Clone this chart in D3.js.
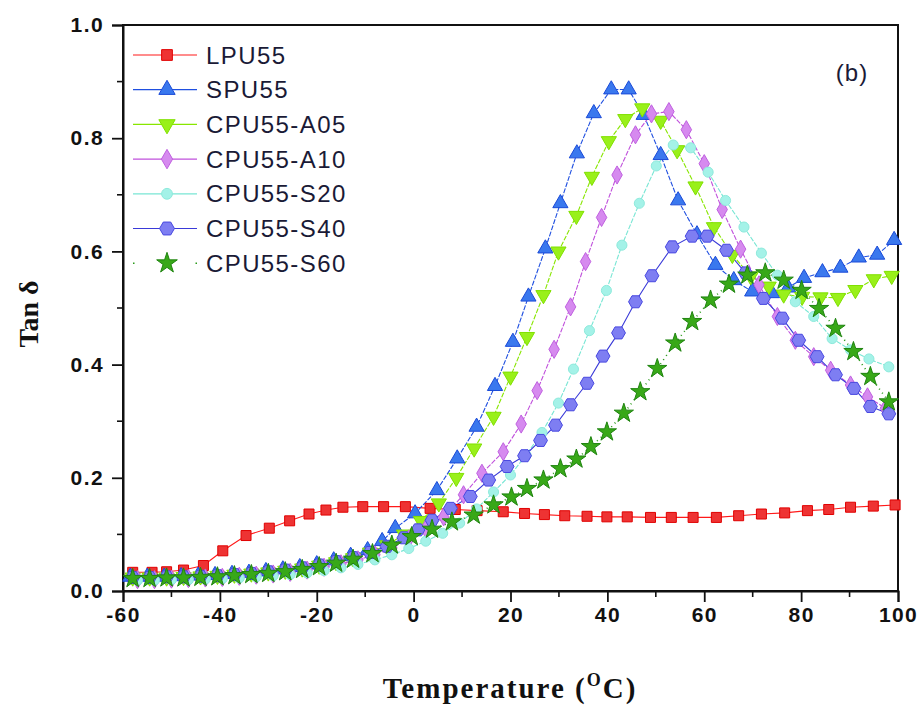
<!DOCTYPE html>
<html>
<head>
<meta charset="utf-8">
<script src="https://cdnjs.cloudflare.com/ajax/libs/d3/7.8.5/d3.min.js"></script>
<style>
  html, body { margin: 0; padding: 0; background: #fff; }
  svg { display: block; }
</style>
</head>
<body>
<svg id="chart"></svg>
<script>
// tan delta vs temperature as [T (°C), tan δ]
const lpu55 = [[-58,0.033],[-54,0.033],[-51,0.034],[-47.5,0.037],[-43.4,0.045],[-39.4,0.071],[-34.6,0.098],[-29.8,0.111],[-25.6,0.124],[-21.6,0.136],[-18.1,0.143],[-14.6,0.148],[-10.5,0.149],[-6.2,0.149],[-1.7,0.149],[3.4,0.146],[8.6,0.144],[13.1,0.142],[18.5,0.140],[22.9,0.137],[27.0,0.135],[31.2,0.133],[35.8,0.132],[39.9,0.131],[44.1,0.131],[48.9,0.130],[53.2,0.130],[57.7,0.130],[62.5,0.130],[67.1,0.133],[71.8,0.136],[76.6,0.138],[81.3,0.142],[85.7,0.144],[90.2,0.148],[94.9,0.150],[99.4,0.152]];

const spu55 = [[-58.5,0.025],[-55,0.025],[-51.5,0.025],[-48,0.026],[-44.5,0.027],[-41,0.028],[-37.5,0.030],[-34,0.032],[-30.5,0.035],[-27,0.038],[-23.5,0.042],[-20,0.047],[-16.5,0.054],[-13,0.062],[-9.5,0.072],[-6.5,0.088],[-3.8,0.111],[0.3,0.137],[4.8,0.178],[9.0,0.234],[13.0,0.290],[16.8,0.362],[20.5,0.440],[23.7,0.520],[27.2,0.605],[30.3,0.685],[33.7,0.773],[37.2,0.844],[40.8,0.886],[44.4,0.886],[47.5,0.841],[51.0,0.770],[54.6,0.690],[58.5,0.630],[62.3,0.576],[66.1,0.549],[69.9,0.529],[74.0,0.526],[77.3,0.536],[80.6,0.553],[84.4,0.563],[88.1,0.571],[91.9,0.589],[95.7,0.594],[99.2,0.620]];

const cpu55A05 = [[-58,0.024],[-54.5,0.024],[-51,0.024],[-47.5,0.025],[-44,0.026],[-40.5,0.027],[-37,0.029],[-33.5,0.031],[-30,0.033],[-26.5,0.036],[-23,0.040],[-19.5,0.045],[-16,0.051],[-12.5,0.058],[-9,0.068],[-5.5,0.081],[-2,0.100],[1.5,0.124],[5.2,0.155],[8.8,0.200],[12.5,0.252],[16.5,0.308],[20.0,0.379],[23.4,0.449],[26.8,0.523],[29.9,0.600],[33.6,0.663],[36.8,0.732],[40.3,0.795],[43.7,0.834],[47.2,0.853],[51.0,0.831],[54.4,0.779],[58.2,0.715],[62.0,0.643],[65.8,0.594],[69.6,0.556],[73.3,0.538],[76.4,0.524],[80.2,0.520],[84.0,0.519],[87.6,0.518],[91.2,0.532],[95.0,0.551],[98.7,0.557]];

const cpu55A10 = [[-57,0.020],[-53.5,0.020],[-50,0.021],[-46.5,0.022],[-43,0.023],[-39.5,0.024],[-36,0.026],[-32.5,0.028],[-29,0.030],[-25.5,0.033],[-22,0.037],[-18.5,0.042],[-15,0.048],[-11.5,0.055],[-8,0.064],[-4.5,0.076],[-1,0.092],[2.5,0.110],[6.2,0.131],[10.3,0.170],[14.1,0.208],[18.5,0.246],[22.2,0.295],[25.5,0.354],[29.0,0.427],[32.4,0.502],[35.5,0.582],[38.8,0.660],[42.0,0.735],[45.8,0.806],[49.1,0.843],[52.7,0.847],[56.3,0.815],[60.0,0.755],[63.7,0.674],[67.5,0.604],[71.3,0.541],[75.1,0.485],[78.8,0.443],[82.6,0.414],[86.1,0.390],[90.2,0.364],[93.7,0.343],[97.4,0.323]];

const cpu55S20 = [[-57,0.019],[-53.5,0.019],[-50,0.020],[-46.5,0.020],[-43,0.021],[-39.5,0.022],[-36,0.023],[-32.5,0.025],[-29,0.027],[-25.5,0.029],[-22,0.032],[-18.5,0.036],[-15,0.041],[-11.5,0.047],[-8,0.055],[-4.5,0.064],[-1,0.075],[2.5,0.088],[6.0,0.102],[9.5,0.120],[13.0,0.145],[16.5,0.175],[20.0,0.205],[23.2,0.240],[26.5,0.280],[29.9,0.332],[33.0,0.392],[36.3,0.460],[39.8,0.531],[43.0,0.611],[46.6,0.685],[50.1,0.751],[53.6,0.788],[57.2,0.783],[60.8,0.740],[64.4,0.690],[68.2,0.643],[71.8,0.597],[75.1,0.558],[78.8,0.511],[82.6,0.485],[86.4,0.446],[90.2,0.426],[94.0,0.410],[98.1,0.396]];

const cpu55S40 = [[-58,0.024],[-54.5,0.024],[-51,0.025],[-47.5,0.025],[-44,0.026],[-40.5,0.027],[-37,0.029],[-33.5,0.031],[-30,0.034],[-26.5,0.037],[-23,0.041],[-19.5,0.046],[-16,0.052],[-12.5,0.059],[-9,0.068],[-5.5,0.079],[-2,0.094],[0.9,0.108],[3.8,0.125],[7.6,0.146],[11.7,0.167],[15.5,0.196],[19.3,0.220],[22.9,0.239],[26.2,0.266],[29.3,0.293],[32.4,0.329],[35.8,0.367],[39.1,0.415],[42.3,0.456],[45.8,0.511],[49.2,0.557],[53.4,0.608],[57.5,0.627],[60.6,0.627],[64.6,0.602],[68.5,0.562],[72.2,0.517],[76.1,0.482],[79.5,0.443],[83.3,0.414],[87.1,0.382],[90.9,0.358],[94.3,0.326],[98.1,0.313]];

const cpu55S60 = [[-58,0.022],[-54.5,0.022],[-51,0.023],[-47.5,0.023],[-44,0.024],[-40.5,0.025],[-37,0.027],[-33.5,0.029],[-30,0.031],[-26.5,0.034],[-23,0.038],[-19.5,0.043],[-16,0.049],[-12.5,0.056],[-8.5,0.066],[-4.5,0.081],[-0.4,0.096],[3.8,0.109],[7.9,0.122],[12.4,0.134],[16.5,0.152],[20.2,0.166],[23.4,0.181],[26.8,0.196],[30.3,0.216],[33.6,0.233],[36.6,0.255],[39.9,0.281],[43.4,0.314],[46.8,0.352],[50.3,0.393],[54.0,0.438],[57.5,0.476],[61.3,0.514],[65.1,0.542],[68.9,0.558],[72.6,0.562],[76.4,0.549],[80.1,0.531],[83.7,0.499],[87.1,0.464],[90.8,0.423],[94.3,0.379],[98.1,0.334]];

const seriesNames = ["LPU55", "SPU55", "CPU55-A05", "CPU55-A10", "CPU55-S20", "CPU55-S40", "CPU55-S60"];
const xTicks = [-60, -40, -20, 0, 20, 40, 60, 80, 100];
const yTicks = [0.0, 0.2, 0.4, 0.6, 0.8, 1.0];

// hexagon marker (d3 has none)
const symbolHex = {
  draw(ctx, size) {
    const r = Math.sqrt(size / (1.5 * Math.sqrt(3)));
    for (let i = 0; i < 6; i++) {
      const a = Math.PI / 3 * i;
      const px = r * Math.cos(a), py = r * Math.sin(a);
      if (i === 0) ctx.moveTo(px, py); else ctx.lineTo(px, py);
    }
    ctx.closePath();
  }
};

const series = [
  { name: seriesNames[0], data: lpu55,   line: "#ff1a1a", fill: "#ee3333", stroke: "#e00000", symbol: d3.symbolSquare,   size: 100, rot: 0,   dash: null },
  { name: seriesNames[1], data: spu55,   line: "#1f4fe0", fill: "#3a78ee", stroke: "#1a4ad8", symbol: d3.symbolTriangle, size: 100, rot: 0,   dash: "5,1.5" },
  { name: seriesNames[2], data: cpu55A05, line: "#88e600", fill: "#99f01a", stroke: "#80e000", symbol: d3.symbolTriangle, size: 100, rot: 180, dash: "5,1.5" },
  { name: seriesNames[3], data: cpu55A10, line: "#c050dc", fill: "#d68aef", stroke: "#c060e0", symbol: d3.symbolDiamond,  size: 95,  rot: 0,   dash: "5,1.5" },
  { name: seriesNames[4], data: cpu55S20, line: "#78e6d4", fill: "#a4f2e8", stroke: "#8eeadc", symbol: d3.symbolCircle,   size: 80,  rot: 0,   dash: "5,1.5" },
  { name: seriesNames[5], data: cpu55S40, line: "#3a3ad8", fill: "#7e7ef2", stroke: "#4848e0", symbol: symbolHex,        size: 125, rot: 0,   dash: null },
  { name: seriesNames[6], data: cpu55S60, line: "#2a9a1a", fill: "#38a818", stroke: "#1f8410", symbol: d3.symbolStar,     size: 115, rot: 0,   dash: "1,4" }
];

const width = 924, height = 708;
const margin = { top: 25, right: 26, bottom: 117, left: 123 };
const innerW = width - margin.left - margin.right;
const innerH = height - margin.top - margin.bottom;

const svg = d3.select("#chart").attr("width", width).attr("height", height);
const g = svg.append("g").attr("transform", `translate(${margin.left},${margin.top})`);

const x = d3.scaleLinear().domain([-60, 100]).range([0, innerW]);
const y = d3.scaleLinear().domain([0, 1]).range([innerH, 0]);

// frame
g.append("rect")
  .attr("x", 0).attr("y", 0).attr("width", innerW).attr("height", innerH)
  .attr("fill", "none").attr("stroke", "#111").attr("stroke-width", 2);

// minor ticks
const xMinor = d3.range(-50, 100, 20);
const yMinor = [0.1, 0.3, 0.5, 0.7, 0.9];
g.append("g").selectAll("line").data(xMinor).enter().append("line")
  .attr("x1", d => x(d)).attr("x2", d => x(d))
  .attr("y1", innerH).attr("y2", innerH + 6)
  .attr("stroke", "#111").attr("stroke-width", 1.6);
g.append("g").selectAll("line").data(yMinor).enter().append("line")
  .attr("x1", 0).attr("x2", -6)
  .attr("y1", d => y(d)).attr("y2", d => y(d))
  .attr("stroke", "#111").attr("stroke-width", 1.6);

// axes
const xAxis = g.append("g")
  .attr("transform", `translate(0,${innerH})`)
  .call(d3.axisBottom(x).tickValues(xTicks).tickSize(11).tickPadding(5).tickFormat(d => String(d)));
const yAxis = g.append("g")
  .call(d3.axisLeft(y).tickValues(yTicks).tickSize(11).tickPadding(8).tickFormat(d3.format(".1f")));

[xAxis, yAxis].forEach(ax => {
  ax.select(".domain").attr("stroke", "#111").attr("stroke-width", 2);
  ax.selectAll(".tick line").attr("stroke", "#111").attr("stroke-width", 1.8);
  ax.selectAll(".tick text")
    .attr("fill", "#111")
    .style("font-family", "'Liberation Sans', Arial, sans-serif")
    .style("font-weight", "bold")
    .style("font-size", "21px")
    .style("letter-spacing", "1.4px");
});

// series lines
const line = d3.line().x(d => x(d[0])).y(d => y(d[1]));
series.forEach(s => {
  g.append("path")
    .datum(s.data)
    .attr("fill", "none")
    .attr("stroke", s.line)
    .attr("stroke-width", s.dash === "1,4" ? 1.6 : 1.1)
    .attr("stroke-dasharray", s.dash)
    .attr("d", line);
});

// markers
series.forEach(s => {
  const sym = d3.symbol().type(s.symbol).size(s.size);
  g.append("g").selectAll("path").data(s.data).enter().append("path")
    .attr("transform", d => `translate(${x(d[0])},${y(d[1])}) rotate(${s.rot})`)
    .attr("d", sym)
    .attr("fill", s.fill)
    .attr("stroke", s.stroke)
    .attr("stroke-width", 1);
});

// legend
const legend = svg.append("g").attr("transform", "translate(133,55)");
const rowH = 34.7;
series.forEach((s, i) => {
  const row = legend.append("g").attr("transform", `translate(0,${i * rowH})`);
  row.append("line")
    .attr("x1", 0).attr("x2", 64).attr("y1", 0).attr("y2", 0)
    .attr("stroke", s.line)
    .attr("stroke-width", s.dash === "1,4" ? 1.6 : 1.2)
    .attr("stroke-dasharray", s.dash === "1,4" ? "1.5,61" : null);
  row.append("path")
    .attr("transform", `translate(34,0) rotate(${s.rot})`)
    .attr("d", d3.symbol().type(s.symbol).size(s.size * 1.15))
    .attr("fill", s.fill)
    .attr("stroke", s.stroke);
  row.append("text")
    .attr("x", 73).attr("y", 0).attr("dy", "0.36em")
    .attr("fill", "#1a1a36")
    .style("font-family", "'Liberation Sans', Arial, sans-serif")
    .style("font-size", "24px")
    .style("letter-spacing", "1.4px")
    .text(s.name);
});

// panel label
svg.append("text")
  .attr("x", 852).attr("y", 81)
  .attr("text-anchor", "middle")
  .attr("fill", "#1a1a36")
  .style("font-family", "'Liberation Sans', Arial, sans-serif")
  .style("font-size", "24px")
  .style("letter-spacing", "1px")
  .text("(b)");

// axis titles
svg.append("text")
  .attr("transform", "translate(38,314) rotate(-90)")
  .attr("text-anchor", "middle")
  .attr("fill", "#111")
  .style("font-family", "'Liberation Serif', 'Times New Roman', serif")
  .style("font-weight", "bold")
  .style("font-size", "28px")
  .text("Tan δ");

const xt = svg.append("text")
  .attr("x", 510).attr("y", 698)
  .attr("text-anchor", "middle")
  .attr("fill", "#111")
  .style("font-family", "'Liberation Serif', 'Times New Roman', serif")
  .style("font-weight", "bold")
  .style("font-size", "29px")
  .style("letter-spacing", "2px");
xt.append("tspan").text("Temperature (");
xt.append("tspan").attr("dy", -12).style("font-size", "18px").text("O");
xt.append("tspan").attr("dy", 12).text("C)");
</script>
</body>
</html>
